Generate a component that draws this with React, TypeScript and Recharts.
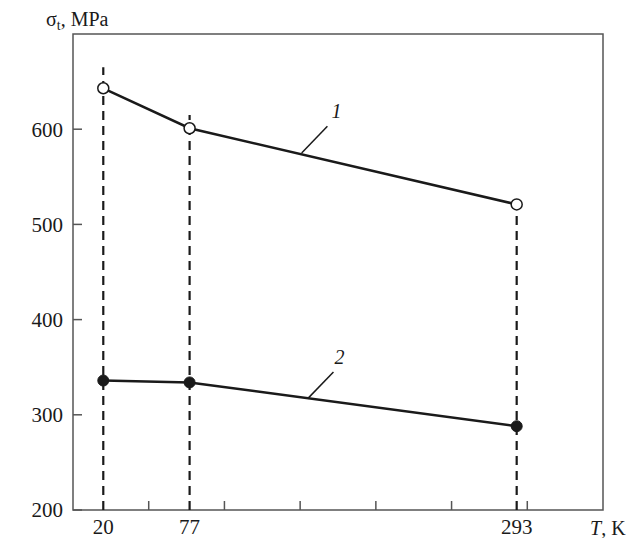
import { LineChart, Line, XAxis, YAxis, ReferenceLine, ReferenceArea, ReferenceDot } from 'recharts';

// temperature, K
const temps = [20, 77, 293];
// tensile strength, MPa
const curve1 = [643, 601, 521];
const curve2 = [336, 334, 288];
// top ends of the dashed drop lines, MPa
const dropTops = [665, 615, 531];

const xLabelTicks = [20, 77, 293];
const xMinorTicks = [50, 100, 150, 200, 250, 300];
const yTicks = [200, 300, 400, 500, 600];

// leader lines and their curve numbers, in (T, MPa)
const leaders = [
  { name: '1', from: { x: 151, y: 575 }, to: { x: 168, y: 603 }, text: { x: 174, y: 619 } },
  { name: '2', from: { x: 155, y: 317 }, to: { x: 172, y: 345 }, text: { x: 176, y: 361 } },
];

const data = temps.map((t, i) => ({ T: t, s1: curve1[i], s2: curve2[i] }));

const FONT = "'Liberation Serif', 'DejaVu Serif', 'Times New Roman', serif";
const INK = '#1a1a1a';
const FRAME = '#555';

const XTick = (props: any) => {
  const { x, y, payload } = props;
  const v = payload.value;
  if (xLabelTicks.includes(v)) {
    return (
      <text x={x} y={y + 24} textAnchor="middle" fontFamily={FONT} fontSize={21} fill={INK}>
        {v}
      </text>
    );
  }
  return <line x1={x} x2={x} y1={y} y2={y - 9} stroke={FRAME} strokeWidth={1.5} />;
};

const YTick = (props: any) => {
  const { x, y, payload } = props;
  return (
    <g>
      <line x1={x} x2={x + 9} y1={y} y2={y} stroke={FRAME} strokeWidth={1.5} />
      <text x={x - 10} y={y} dy="0.35em" textAnchor="end" fontFamily={FONT} fontSize={21} fill={INK}>
        {payload.value}
      </text>
    </g>
  );
};

const NumLabel = (text: string) => (props: any) => {
  const { viewBox } = props;
  const cx = viewBox.x + viewBox.width / 2;
  const cy = viewBox.y + viewBox.height / 2;
  return (
    <text x={cx} y={cy} dy="0.35em" textAnchor="middle" fontFamily={FONT} fontStyle="italic" fontSize={20} fill={INK}>
      {text}
    </text>
  );
};

export default function App() {
  return (
    <div style={{ position: 'absolute', left: 0, top: 0, width: 636, height: 538, background: '#fff' }}>
      <LineChart width={636} height={538} data={data} margin={{ top: 34, right: 33, left: 0, bottom: 0 }}>
        <XAxis
          dataKey="T"
          type="number"
          domain={[0, 350]}
          ticks={[...xLabelTicks, ...xMinorTicks].sort((a, b) => a - b)}
          interval={0}
          axisLine={false}
          tickLine={false}
          tickSize={0}
          tickMargin={0}
          height={28}
          tick={<XTick />}
        />
        <YAxis
          type="number"
          domain={[200, 700]}
          ticks={yTicks}
          interval={0}
          axisLine={false}
          tickLine={false}
          tickSize={0}
          tickMargin={0}
          width={73}
          tick={<YTick />}
        />
        <ReferenceArea x1={0} x2={350} y1={200} y2={700} fill="none" stroke={FRAME} strokeWidth={1.5} />
        {temps.map((t, i) => (
          <ReferenceLine
            key={t}
            segment={[{ x: t, y: 200 }, { x: t, y: dropTops[i] }]}
            stroke={INK}
            strokeWidth={2.2}
            strokeDasharray="9 6"
          />
        ))}
        {leaders.map((l) => (
          <ReferenceLine key={l.name} segment={[l.from, l.to]} stroke={INK} strokeWidth={1.5} />
        ))}
        {leaders.map((l) => (
          <ReferenceDot
            key={'t' + l.name}
            x={l.text.x}
            y={l.text.y}
            r={0}
            fill="none"
            stroke="none"
            label={{ content: NumLabel(l.name) }}
          />
        ))}
        <Line
          dataKey="s1"
          stroke={INK}
          strokeWidth={2.5}
          isAnimationActive={false}
          dot={{ r: 5.5, fill: '#fff', stroke: INK, strokeWidth: 1.5 }}
        />
        <Line
          dataKey="s2"
          stroke={INK}
          strokeWidth={2.5}
          isAnimationActive={false}
          dot={{ r: 5.5, fill: INK, stroke: INK, strokeWidth: 1 }}
        />
      </LineChart>
      <svg width={636} height={538} style={{ position: 'absolute', left: 0, top: 0, pointerEvents: 'none' }}>
        <text x={46} y={26} fontFamily={FONT} fontSize={20} fill={INK}>
          σ<tspan fontSize={14} dy={4}>t</tspan>
          <tspan dy={-4}>, MPa</tspan>
        </text>
        <text x={590} y={535} fontFamily={FONT} fontSize={20} fill={INK}>
          <tspan fontStyle="italic">T</tspan>, K
        </text>
      </svg>
    </div>
  );
}
